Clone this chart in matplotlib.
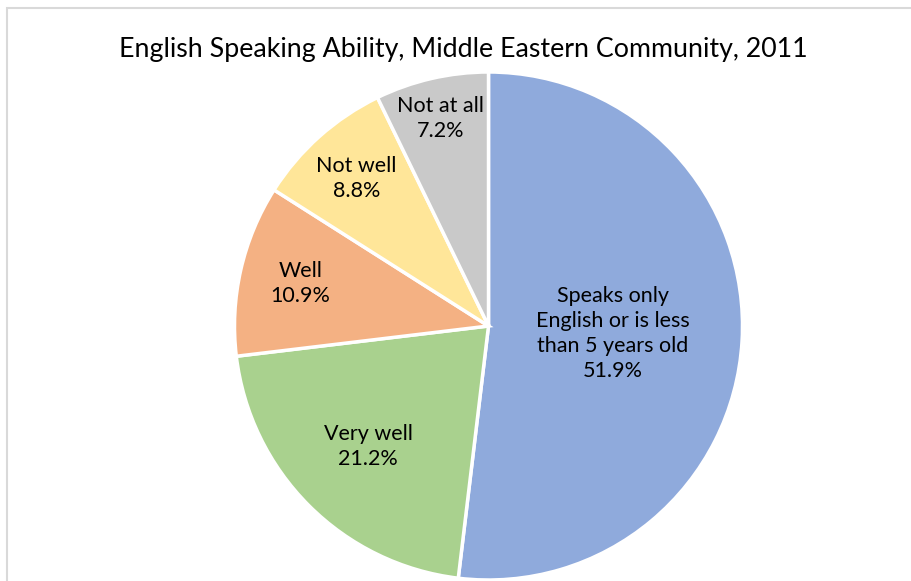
import matplotlib
matplotlib.use("Agg")
import matplotlib.pyplot as plt
import numpy as np
from matplotlib.patches import Rectangle

categories = ["Speaks only\nEnglish or is less\nthan 5 years old", "Very well", "Well", "Not well", "Not at all"]
values = [51.9, 21.2, 10.9, 8.8, 7.2]
colors = ["#8FAADC", "#A9D18E", "#F4B183", "#FFE699", "#C9C9C9"]
label_dist = [0.49, 0.67, 0.76, 0.78, 0.84]
title = "English Speaking Ability, Middle Eastern Community, 2011"

plt.rcParams['font.family'] = ['Lato', 'DejaVu Sans']

W, H = 912, 581
fig = plt.figure(figsize=(W/100, H/100), dpi=100)
ax = fig.add_axes([0, 0, 1, 1])
ax.set_xlim(0, W)
ax.set_ylim(0, H)
ax.axis('off')

# frame
ax.add_patch(Rectangle((7.5, -20), W + 20, H - 7.5 + 20, fill=False, edgecolor="#D9D9D9", linewidth=1.5))

cx, cy, R = 488.5, H - 326, 254
wedges, _ = ax.pie(values, colors=colors, startangle=90, counterclock=False,
                   center=(cx, cy), radius=R,
                   wedgeprops=dict(edgecolor="white", linewidth=2.5))
ax.set_xlim(0, W)
ax.set_ylim(0, H)
ax.set_aspect('auto')

for w, lab, v, d in zip(wedges, categories, values, label_dist):
    ang = np.deg2rad((w.theta1 + w.theta2) / 2)
    x = cx + d * R * np.cos(ang)
    y = cy + d * R * np.sin(ang)
    ax.text(x, y, f"{lab}\n{v:.1f}%", ha="center", va="center", fontsize=15.5,
            color="black", linespacing=1.32)

ax.text(W / 2 + 7, H - 49, title, ha="center", va="center", fontsize=19.3, color="black")

fig.savefig("out.png", dpi=100)
